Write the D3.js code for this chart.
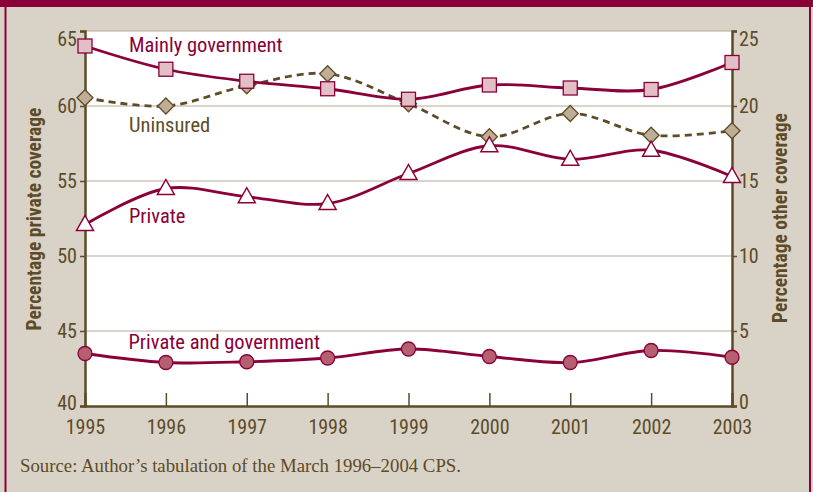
<!DOCTYPE html>
<html><head><meta charset="utf-8">
<script src="https://cdn.jsdelivr.net/npm/d3@7"></script>
<style>
html,body{margin:0;padding:0;background:#d9d2c6;}
svg{display:block;}
</style></head>
<body>
<svg id="chart" width="813" height="492"></svg>
<script>
const years = [1995,1996,1997,1998,1999,2000,2001,2002,2003];
const mainlyGovernment = [24.0,22.45,21.65,21.15,20.45,21.4,21.2,21.1,22.9];   // right axis
const uninsured = [20.55,20.0,21.35,22.15,20.15,17.95,19.5,18.05,18.35];        // right axis
const privateCov = [52.1,54.5,53.95,53.5,55.5,57.35,56.45,57.05,55.3];         // left axis
const privateAndGov = [3.5,2.9,2.95,3.2,3.8,3.3,2.9,3.7,3.25];                  // right axis
const leftTicks = [40,45,50,55,60,65];
const rightTicks = [0,5,10,15,20,25];
const leftTitle = "Percentage private coverage";
const rightTitle = "Percentage other coverage";
const sourceNote = "Source: Author’s tabulation of the March 1996–2004 CPS.";

const RED = "#8a0039", OLIVE = "#5e4b28", BG = "#d9d2c6";
const FONT = "'Liberation Sans Narrow','Arial Narrow','Roboto Condensed',sans-serif";

const svg = d3.select("#chart");
const L = 85, R = 732, T = 31, B = 406;

const x = d3.scalePoint().domain(years).range([L, R]);
const yL = d3.scaleLinear().domain([40, 65]).range([B, T]);
const yR = d3.scaleLinear().domain([0, 25]).range([B, T]);

// frame
svg.append("rect").attr("x",0).attr("y",0).attr("width",813).attr("height",492).attr("fill",BG);
svg.append("rect").attr("x",0).attr("y",0).attr("width",813).attr("height",7).attr("fill",RED);
svg.append("line").attr("x1",5.5).attr("x2",5.5).attr("y1",0).attr("y2",492).attr("stroke",RED).attr("stroke-width",2);
svg.append("line").attr("x1",810).attr("x2",810).attr("y1",0).attr("y2",492).attr("stroke",RED).attr("stroke-width",2);

// plot bg
svg.append("rect").attr("x",L).attr("y",T).attr("width",R-L).attr("height",B-T).attr("fill","#ffffff");

// gridlines
svg.append("g").selectAll("line").data(leftTicks.filter(d=>d>40)).join("line")
  .attr("x1",L).attr("x2",R).attr("y1",d=>yL(d)).attr("y2",d=>yL(d))
  .attr("stroke","#b8aa96").attr("stroke-width",1.2);

// left axis
const gL = svg.append("g").attr("transform",`translate(${L},0)`)
  .call(d3.axisLeft(yL).tickValues(leftTicks).tickSize(5).tickPadding(3));
// right axis
const gR = svg.append("g").attr("transform",`translate(${R},0)`)
  .call(d3.axisRight(yR).tickValues(rightTicks).tickSize(5).tickPadding(2));
// bottom axis
const gB = svg.append("g").attr("transform",`translate(0,${B})`)
  .call(d3.axisBottom(x).tickSize(-13).tickPadding(14));
[gL,gR,gB].forEach(g=>{
  g.select(".domain").attr("stroke",OLIVE).attr("stroke-width",2.5);
  g.selectAll(".tick line").attr("stroke",OLIVE).attr("stroke-width",1.5);
  g.selectAll("text").attr("fill",OLIVE).style("font-family",FONT).style("font-size","20px");
});
gL.selectAll(".tick").filter(d=>d===65).select("text").attr("dy","0.72em");
gR.selectAll(".tick").filter(d=>d===25).select("text").attr("dy","0.72em");
gL.selectAll(".tick").filter(d=>d===40).select("text").attr("dy","0.15em");
gR.selectAll(".tick").filter(d=>d===0).select("text").attr("dy","0.1em");
gB.selectAll(".tick line").filter(d=>d===1995||d===2003).remove();
gB.selectAll(".tick text").attr("dy","0.71em");

// axis titles
svg.append("text").attr("transform",`translate(41,219) rotate(-90)`).attr("text-anchor","middle")
  .attr("fill",OLIVE).style("font-family",FONT).style("font-size","19.5px").style("font-weight","bold").text(leftTitle);
svg.append("text").attr("transform",`translate(787,218) rotate(-90)`).attr("text-anchor","middle")
  .attr("fill",OLIVE).style("font-family",FONT).style("font-size","19.5px").style("font-weight","bold").text(rightTitle);

const line = (ys, scale) => d3.line().x((d,i)=>x(years[i])).y(d=>scale(d)).curve(d3.curveCatmullRom.alpha(0.5))(ys);

// Uninsured
svg.append("path").attr("d",line(uninsured,yR)).attr("fill","none").attr("stroke",OLIVE)
  .attr("stroke-width",2.8).attr("stroke-dasharray","7,5");
svg.append("g").selectAll("path").data(uninsured).join("path")
  .attr("transform",(d,i)=>`translate(${x(years[i])},${yR(d)})`)
  .attr("d","M0,-8L8,0L0,8L-8,0Z")
  .attr("fill","#bfae95").attr("stroke",OLIVE).attr("stroke-width",1.3);

// Mainly government
svg.append("path").attr("d",line(mainlyGovernment,yR)).attr("fill","none").attr("stroke",RED).attr("stroke-width",2.8);
svg.append("g").selectAll("rect").data(mainlyGovernment).join("rect")
  .attr("x",(d,i)=>x(years[i])-7).attr("y",d=>yR(d)-7).attr("width",14).attr("height",14)
  .attr("fill","#e2bfc5").attr("stroke",RED).attr("stroke-width",1.3);

// Private
svg.append("path").attr("d",line(privateCov,yL)).attr("fill","none").attr("stroke",RED).attr("stroke-width",2.8);
svg.append("g").selectAll("path").data(privateCov).join("path")
  .attr("transform",(d,i)=>`translate(${x(years[i])},${yL(d)})`)
  .attr("d","M0,-9L8.5,6L-8.5,6Z")
  .attr("fill","#ffffff").attr("stroke",RED).attr("stroke-width",1.5);

// Private and government
svg.append("path").attr("d",line(privateAndGov,yR)).attr("fill","none").attr("stroke",RED).attr("stroke-width",2.8);
svg.append("g").selectAll("circle").data(privateAndGov).join("circle")
  .attr("cx",(d,i)=>x(years[i])).attr("cy",d=>yR(d)).attr("r",7)
  .attr("fill","#b65f70").attr("stroke",RED).attr("stroke-width",1.3);

// series labels
const labels = [
  {t:"Mainly government", x:129, y:51.5, c:RED},
  {t:"Uninsured", x:129, y:131.5, c:OLIVE},
  {t:"Private", x:129, y:222.5, c:RED},
  {t:"Private and government", x:128.5, y:349, c:RED}
];
svg.append("g").selectAll("text").data(labels).join("text")
  .attr("x",d=>d.x).attr("y",d=>d.y).attr("fill",d=>d.c)
  .style("font-family",FONT).style("font-size","20.5px").text(d=>d.t);

// source
svg.append("text").attr("x",20).attr("y",472).attr("fill",OLIVE)
  .style("font-family","'Liberation Serif','Times New Roman',serif").style("font-size","18.8px").text(sourceNote);
</script>
</body></html>
